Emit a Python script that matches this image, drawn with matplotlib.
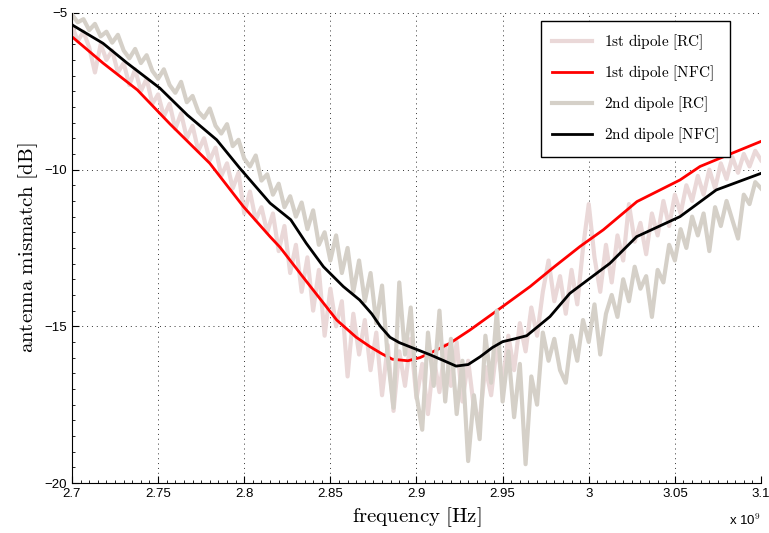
import numpy as np
import matplotlib
matplotlib.use("Agg")
import matplotlib.pyplot as plt
from matplotlib.ticker import MultipleLocator, FormatStrFormatter

plt.rcParams['font.family'] = ['Liberation Sans', 'DejaVu Sans']
plt.rcParams['mathtext.fontset'] = 'cm'

# frequency axis of the measured (noisy) traces, in units of 1e9 Hz
f_rc = np.linspace(2.7, 3.1, 121)

rc1 = [-5.40, -5.90, -5.60, -6.10, -6.90, -6.00, -6.50, -6.20, -6.90, -6.60,
       -7.30, -6.80, -7.50, -7.10, -7.90, -7.60, -8.30, -7.90, -8.70, -8.20,
       -9.00, -8.60, -9.40, -9.00, -9.70, -9.30, -10.20, -9.80, -10.60, -10.10,
       -11.40, -10.70, -11.60, -11.20, -12.00, -11.40, -12.60, -11.80, -13.30, -12.40,
       -13.90, -12.80, -14.50, -13.20, -15.30, -13.80, -15.00, -14.20, -16.60, -14.60,
       -15.90, -14.80, -16.40, -15.20, -17.20, -15.60, -17.70, -15.80, -16.90, -15.40,
       -17.30, -16.20, -17.80, -16.00, -17.10, -15.60, -16.90, -15.50, -17.40, -16.10,
       -17.60, -18.00, -16.30, -17.20, -15.60, -16.80, -15.30, -16.40, -14.90, -15.80,
       -14.40, -15.30, -13.90, -12.90, -14.20, -13.40, -14.60, -13.20, -14.30, -12.50,
       -11.10, -12.80, -13.90, -12.40, -13.60, -12.10, -12.90, -11.10, -12.30, -11.70,
       -12.70, -11.40, -12.10, -11.00, -11.80, -10.80, -11.40, -10.50, -11.00, -10.20,
       -10.80, -10.00, -10.60, -9.80, -10.30, -9.60, -10.10, -9.50, -9.90, -9.40,
       -9.70]

rc2 = [-5.05, -5.30, -5.20, -5.55, -5.35, -5.75, -5.60, -5.95, -5.70, -6.20,
       -6.45, -6.15, -6.60, -6.35, -6.85, -7.10, -6.80, -7.30, -7.55, -7.20,
       -7.85, -7.65, -8.15, -8.35, -8.05, -8.60, -8.85, -8.55, -9.25, -9.05,
       -9.65, -9.90, -9.55, -10.35, -10.15, -10.80, -10.45, -11.20, -10.85, -11.50,
       -11.05, -11.90, -11.30, -12.40, -12.00, -12.90, -12.10, -13.30, -12.50, -13.90,
       -12.90, -14.20, -13.30, -14.90, -13.70, -16.00, -17.60, -13.60, -15.90, -14.40,
       -17.20, -18.30, -15.20, -16.90, -14.50, -17.40, -15.40, -17.80, -16.10, -19.30,
       -17.20, -18.60, -15.30, -16.80, -14.50, -17.40, -15.80, -17.90, -16.20, -19.40,
       -16.60, -17.50, -15.20, -16.10, -15.40, -16.40, -16.80, -15.30, -16.10, -14.80,
       -15.50, -14.30, -15.90, -14.60, -14.00, -14.70, -13.50, -14.20, -13.10, -13.80,
       -13.40, -14.70, -13.20, -13.60, -12.40, -12.90, -11.90, -12.50, -11.50, -12.10,
       -11.40, -12.60, -11.20, -11.80, -11.00, -11.60, -12.20, -10.80, -11.10, -10.40,
       -10.60]

# near-field-corrected (smooth) traces
f_nfc1 = [2.700, 2.718, 2.738, 2.757, 2.780, 2.7995, 2.815, 2.8208, 2.834, 2.8537,
          2.865, 2.873, 2.880, 2.886, 2.895, 2.902, 2.910, 2.9194, 2.931, 2.950,
          2.966, 2.980, 2.995, 3.0085, 3.028, 3.053, 3.0646, 3.080, 3.100]
nfc1 = [-5.76, -6.60, -7.46, -8.55, -9.80, -11.18, -12.14, -12.48, -13.42, -14.80,
        -15.35, -15.65, -15.88, -16.05, -16.10, -16.00, -15.80, -15.54, -15.12, -14.37,
        -13.73, -13.10, -12.45, -11.92, -11.02, -10.33, -9.90, -9.55, -9.10]

f_nfc2 = [2.700, 2.718, 2.732, 2.751, 2.767, 2.784, 2.7975, 2.815, 2.827, 2.836,
          2.846, 2.8575, 2.867, 2.874, 2.879, 2.8846, 2.890, 2.896, 2.908, 2.916,
          2.923, 2.930, 2.937, 2.944, 2.950, 2.957, 2.964, 2.9775, 2.989, 3.0123,
          3.0278, 3.053, 3.074, 3.100]
nfc2 = [-5.38, -5.97, -6.60, -7.40, -8.26, -9.05, -9.96, -11.07, -11.60, -12.35,
        -13.10, -13.73, -14.16, -14.60, -15.00, -15.35, -15.52, -15.65, -15.91, -16.10,
        -16.27, -16.22, -15.97, -15.68, -15.49, -15.40, -15.30, -14.69, -13.95, -12.99,
        -12.14, -11.50, -10.65, -10.12]

xticks = [2.7, 2.75, 2.8, 2.85, 2.9, 2.95, 3.0, 3.05, 3.1]
yticks = [-20, -15, -10, -5]

labels = [r'$\mathrm{1st\ dipole\ [RC]}$', r'$\mathrm{1st\ dipole\ [NFC]}$',
          r'$\mathrm{2nd\ dipole\ [RC]}$', r'$\mathrm{2nd\ dipole\ [NFC]}$']

fig = plt.figure(figsize=(7.69, 5.33), dpi=100)
ax = fig.add_axes([0.0936, 0.0938, 0.896, 0.882])

ax.plot(f_rc, rc1, color='#ead8d8', lw=3.0, label=labels[0])
ax.plot(f_nfc1, nfc1, color='#ff0000', lw=2.0, label=labels[1])
ax.plot(f_rc, rc2, color='#d5d0c8', lw=3.0, label=labels[2])
ax.plot(f_nfc2, nfc2, color='black', lw=2.0, label=labels[3])

ax.set_xlim(2.7, 3.1)
ax.set_ylim(-20, -5)
ax.set_xticks(xticks)
ax.set_yticks(yticks)
ax.xaxis.set_major_formatter(FormatStrFormatter('%g'))
ax.xaxis.set_minor_locator(MultipleLocator(0.005))
ax.yaxis.set_minor_locator(MultipleLocator(0.5))
ax.tick_params(which='major', direction='in', length=5, width=0.8, labelsize=9.5)
ax.tick_params(which='minor', direction='in', length=2.5, width=0.6)

ax.spines['top'].set_visible(False)
ax.spines['right'].set_visible(False)
ax.grid(True, which='major', color='#333333', linestyle=(0, (1, 4)), linewidth=0.7)

ax.set_xlabel(r'$\mathrm{frequency\ [Hz]}$', fontsize=15, labelpad=4)
ax.set_ylabel(r'$\mathrm{antenna\ mismatch\ [dB]}$', fontsize=15, labelpad=3)
ax.text(1.0, -0.08, r'x 10$^{9}$', transform=ax.transAxes, ha='right', va='center', fontsize=9.5)

leg = ax.legend(loc='upper right', bbox_to_anchor=(0.955, 0.983), fontsize=11,
                fancybox=False, framealpha=1, edgecolor='black', borderaxespad=0,
                handlelength=2.6, labelspacing=0.75, borderpad=0.75)
leg.get_frame().set_linewidth(1.0)

fig.savefig('out.png', dpi=100)
